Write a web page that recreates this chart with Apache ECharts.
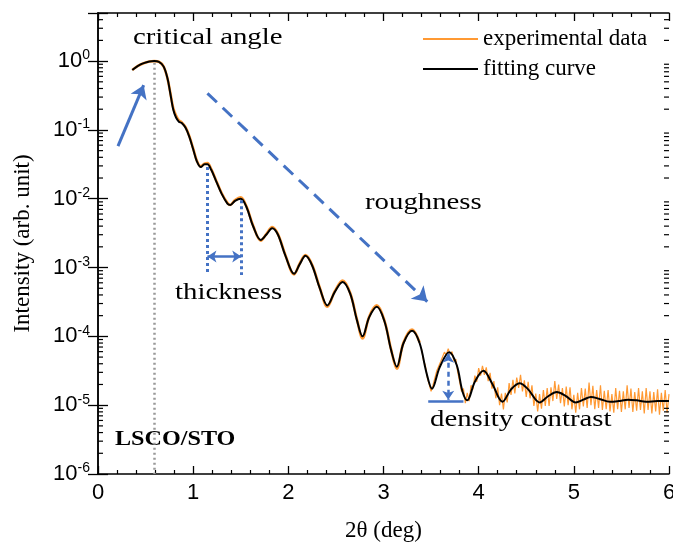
<!DOCTYPE html>
<html>
<head>
<meta charset="utf-8">
<script src="https://cdn.jsdelivr.net/npm/echarts@6/dist/echarts.min.js"></script>
<style>
  html, body { margin: 0; padding: 0; background: #fff; }
  #chart { width: 673px; height: 544px; }
</style>
</head>
<body>
<div id="chart"></div>
<script>
// X-ray reflectivity of an LSCO film on STO: measured scan and model fit.
// Intensities are kept as log10 values (arb. unit).

// Fitted model curve
const fitTwoTheta = [0.36,0.42,0.48,0.54,0.59,0.64,0.69,0.73,0.76,0.79,0.82,0.85,0.88,0.92,0.96,1.00,1.04,1.08,1.12,1.15,
  1.19,1.24,1.30,1.36,1.39,1.44,1.50,1.56,1.63,1.71,1.77,1.83,1.89,1.97,2.06,2.12,2.18,2.25,2.33,2.41,
  2.49,2.57,2.65,2.72,2.78,2.85,2.93,3.01,3.08,3.14,3.21,3.30,3.38,3.45,3.51,3.59,3.69,3.77,3.83,3.88,
  3.96,4.05,4.14,4.25,4.34,4.43,4.52,4.64,4.73,4.82,4.91,5.02,5.10,5.18,5.27,5.38,5.47,5.57,5.66,5.76,
  5.88,6.00];
const fitLogI = [-0.13,-0.07,-0.03,-0.005,0.0,-0.01,-0.08,-0.25,-0.47,-0.70,-0.82,-0.88,-0.90,-0.97,-1.10,-1.28,-1.46,-1.54,-1.50,-1.50,
  -1.58,-1.74,-1.93,-2.07,-2.09,-2.03,-2.00,-2.12,-2.40,-2.60,-2.52,-2.43,-2.52,-2.83,-3.09,-2.95,-2.83,-2.97,-3.30,-3.55,
  -3.35,-3.21,-3.38,-3.76,-4.00,-3.72,-3.57,-3.78,-4.20,-4.44,-4.10,-3.92,-4.10,-4.52,-4.76,-4.45,-4.23,-4.42,-4.80,-4.93,
  -4.66,-4.50,-4.68,-4.95,-4.77,-4.68,-4.77,-4.96,-4.87,-4.81,-4.86,-4.96,-4.92,-4.88,-4.91,-4.95,-4.94,-4.92,-4.93,-4.95,
  -4.94,-4.94];

// Measured scan, low-angle part (strong signal)
const expLowTwoTheta = [0.36,0.42,0.48,0.54,0.59,0.64,0.69,0.73,0.76,0.79,0.82,0.85,0.88,0.92,0.96,1.00,1.04,1.08,1.12,1.15,
  1.19,1.24,1.30,1.36,1.39,1.44,1.50,1.56,1.63,1.71,1.77,1.83,1.89,1.97,2.06,2.12,2.18,2.25,2.33,2.41,
  2.49,2.57,2.65,2.72,2.78,2.85,2.93,3.01,3.08,3.14,3.21,3.30,3.38];
const expLowLogI = [-0.13,-0.07,-0.03,-0.005,0.0,-0.01,-0.08,-0.25,-0.46,-0.68,-0.79,-0.86,-0.89,-0.96,-1.09,-1.27,-1.45,-1.53,-1.49,-1.48,
  -1.57,-1.73,-1.92,-2.06,-2.09,-2.02,-1.98,-2.11,-2.39,-2.61,-2.51,-2.41,-2.51,-2.82,-3.10,-2.94,-2.82,-2.96,-3.29,-3.57,
  -3.34,-3.19,-3.37,-3.75,-4.03,-3.71,-3.55,-3.77,-4.19,-4.47,-4.09,-3.90,-4.09];

// Measured scan, high-angle part (noisy), sampled every 0.02 deg from 3.40 deg
const expHighStart = 3.40;
const expHighStep = 0.02;
const expHighLogI = [-4.19,-4.35,-4.42,-4.60,-4.61,-4.80,-4.71,-4.71,-4.50,-4.52,
  -4.37,-4.38,-4.23,-4.27,-4.18,-4.26,-4.22,-4.36,-4.33,-4.52,
  -4.53,-4.80,-4.76,-4.97,-4.82,-4.94,-4.71,-4.77,-4.57,-4.66,
  -4.46,-4.57,-4.43,-4.56,-4.45,-4.65,-4.53,-4.76,-4.65,-4.90,
  -4.74,-5.00,-4.83,-5.06,-4.82,-4.96,-4.68,-4.85,-4.63,-4.83,
  -4.60,-4.75,-4.56,-4.80,-4.64,-4.88,-4.66,-4.90,-4.71,-5.01,
  -4.83,-5.09,-4.84,-5.05,-4.78,-5.01,-4.75,-5.01,-4.74,-4.94,
  -4.65,-4.91,-4.70,-4.97,-4.75,-5.02,-4.73,-5.00,-4.74,-5.06,
  -4.85,-5.11,-4.82,-5.06,-4.75,-5.02,-4.76,-5.04,-4.67,-5.00,
  -4.72,-5.06,-4.78,-5.04,-4.71,-5.07,-4.79,-5.06,-4.78,-5.09,
  -4.84,-5.11,-4.75,-5.06,-4.79,-5.10,-4.80,-5.06,-4.71,-5.04,
  -4.76,-5.10,-4.81,-5.08,-4.75,-5.07,-4.80,-5.12,-4.75,-5.07,
  -4.80,-5.12,-4.81,-5.09,-4.77,-5.14,-4.82,-5.08,-4.78,-5.11,
  -4.84];

// Axis ticks
const xTickValues = [0, 1, 2, 3, 4, 5, 6];
const yDecades = [-6, -5, -4, -3, -2, -1, 0];

const BLUE = '#4472C4';
const ORANGE = '#FF9933';
const SERIF = '"Liberation Serif", "Times New Roman", serif';
const SANS = '"Liberation Sans", Arial, sans-serif';

const toPoint = (x, lg) => [x, Math.pow(10, lg)];
const fitData = fitTwoTheta.map((x, i) => toPoint(x, fitLogI[i]));
const expLowData = expLowTwoTheta.map((x, i) => toPoint(x, expLowLogI[i]));
const expHighData = expHighLogI.map((lg, i) => toPoint(+(expHighStart + i * expHighStep).toFixed(2), lg));

// minor log ticks (2..9 per decade) drawn on both vertical axes
const yMax = 5;
const minorTickData = [];
yDecades.forEach(d => {
  for (let k = 2; k <= 9; k++) {
    const v = k * Math.pow(10, d);
    if (v < yMax) minorTickData.push([0, v]);
  }
});

const chart = echarts.init(document.getElementById('chart'), null, { renderer: 'canvas' });

const axisLineStyle = { color: '#000', width: 1.5 };

chart.setOption({
  animation: false,
  backgroundColor: '#fff',
  grid: { left: 98, right: 4, top: 13, bottom: 70, outerBoundsMode: 'none', containLabel: false },
  legend: {
    orient: 'vertical',
    left: 423, top: 27, padding: 0,
    icon: 'rect',
    itemWidth: 55, itemHeight: 2, itemGap: 6,
    textStyle: { fontFamily: SERIF, fontSize: 23, color: '#000', lineHeight: 24 },
    data: ['experimental data', 'fitting curve'],
    selectedMode: false
  },
  xAxis: [{
    type: 'value', min: 0, max: 6, interval: 1,
    name: '2θ (deg)', nameLocation: 'middle', nameGap: 45,
    nameTextStyle: { fontFamily: SERIF, fontSize: 23, color: '#000' },
    axisLine: { lineStyle: axisLineStyle },
    axisTick: { inside: true, length: 8, lineStyle: { color: '#000', width: 1.3 } },
    minorTick: { show: true, splitNumber: 5, length: 4, lineStyle: { color: '#000', width: 1.2 } },
    axisLabel: { fontFamily: SANS, fontSize: 22, color: '#000', margin: 8,
      formatter: v => (xTickValues.includes(Math.round(v)) ? String(Math.round(v)) : '') },
    splitLine: { show: false }
  }, {
    type: 'value', min: 0, max: 6, interval: 1, position: 'top',
    axisLine: { lineStyle: axisLineStyle },
    axisTick: { inside: true, length: 8, lineStyle: { color: '#000', width: 1.3 } },
    minorTick: { show: true, splitNumber: 5, length: 4, lineStyle: { color: '#000', width: 1.2 } },
    axisLabel: { show: false },
    splitLine: { show: false }
  }],
  yAxis: [{
    type: 'log', logBase: 10, min: 1e-6, max: yMax,
    name: 'Intensity (arb. unit)', nameLocation: 'middle', nameGap: 64, nameRotate: 90,
    nameTextStyle: { fontFamily: SERIF, fontSize: 23, color: '#000' },
    axisLine: { show: true, lineStyle: axisLineStyle },
    axisTick: { inside: true, length: 10, lineStyle: { color: '#000', width: 1.3 } },
    axisLabel: {
      margin: 8, color: '#000',
      formatter: v => {
        const lg = Math.log10(v);
        const e = Math.round(lg);
        if (Math.abs(lg - e) > 1e-6 || !yDecades.includes(e)) return '';
        return '{b|10}{s|' + e + '}';
      },
      rich: {
        b: { fontFamily: SANS, fontSize: 22, color: '#000' },
        s: { fontFamily: SANS, fontSize: 14, color: '#000', verticalAlign: 'bottom', padding: [0, 0, 11, 0] }
      }
    },
    splitLine: { show: false }
  }, {
    type: 'log', logBase: 10, min: 1e-6, max: yMax, position: 'right',
    axisLine: { show: true, lineStyle: axisLineStyle },
    axisTick: { inside: true, length: 10, lineStyle: { color: '#000', width: 1.3 } },
    axisLabel: { show: false },
    splitLine: { show: false }
  }],
  graphic: [
    { type: 'text', x: 133, y: 38, scaleX: 1.2, silent: true,
      style: { text: 'critical angle', font: '24px ' + SERIF, fill: '#000', verticalAlign: 'middle' } },
    { type: 'text', x: 365, y: 203, scaleX: 1.2, silent: true,
      style: { text: 'roughness', font: '24px ' + SERIF, fill: '#000', verticalAlign: 'middle' } },
    { type: 'text', x: 175, y: 293, scaleX: 1.2, silent: true,
      style: { text: 'thickness', font: '24px ' + SERIF, fill: '#000', verticalAlign: 'middle' } },
    { type: 'text', x: 430, y: 420, scaleX: 1.2, silent: true,
      style: { text: 'density contrast', font: '24px ' + SERIF, fill: '#000', verticalAlign: 'middle' } },
    { type: 'text', x: 115, y: 440, scaleX: 1.15, silent: true,
      style: { text: 'LSCO/STO', font: 'bold 21px ' + SERIF, fill: '#000', verticalAlign: 'middle' } }
  ],
  series: [
    {
      name: 'experimental data', type: 'line', data: expHighData,
      symbol: 'none', smooth: false, z: 2,
      itemStyle: { color: ORANGE },
      lineStyle: { color: ORANGE, width: 1.2 }
    },
    {
      name: 'experimental data', type: 'line', data: expLowData,
      symbol: 'none', smooth: 0.35, z: 2,
      itemStyle: { color: ORANGE },
      lineStyle: { color: ORANGE, width: 2.6 }
    },
    {
      name: 'fitting curve', type: 'line', data: fitData,
      symbol: 'none', smooth: 0.35, z: 3,
      itemStyle: { color: '#000' },
      lineStyle: { color: '#000', width: 2 },
      markLine: {
        silent: true, animation: false,
        symbol: ['none', 'none'], symbolSize: 12,
        label: { show: false },
        emphasis: { disabled: true },
        data: [
          // critical angle marker
          [{ coord: [0.59, 0.95], lineStyle: { color: '#999999', width: 2.5, type: [2, 3] } },
           { coord: [0.59, 1e-6] }],
          // arrow towards the critical angle
          [{ coord: [0.21, 0.058], lineStyle: { color: BLUE, width: 3, type: 'solid' } },
           { coord: [0.48, 0.447], symbol: 'arrow', symbolSize: 13 }],
          // roughness trend
          [{ coord: [1.15, 0.34], lineStyle: { color: BLUE, width: 3, type: [13, 8] } },
           { coord: [3.46, 3.2e-4], symbol: 'arrow', symbolSize: 14 }],
          // thickness: fringe period
          [{ coord: [1.15, 0.029], lineStyle: { color: BLUE, width: 3, type: [3, 3] } },
           { coord: [1.15, 7.8e-4] }],
          [{ coord: [1.505, 0.0095], lineStyle: { color: BLUE, width: 3, type: [3, 3] } },
           { coord: [1.505, 7.8e-4] }],
          [{ coord: [1.15, 1.45e-3], symbol: 'arrow', symbolSize: 9, lineStyle: { color: BLUE, width: 2.5, type: 'solid' } },
           { coord: [1.505, 1.45e-3], symbol: 'arrow', symbolSize: 9 }],
          // density contrast: fringe amplitude
          [{ coord: [3.47, 1.15e-5], lineStyle: { color: BLUE, width: 2.5, type: 'solid' } },
           { coord: [3.84, 1.15e-5] }],
          [{ coord: [3.68, 5.6e-5], symbol: 'arrow', symbolSize: 9, lineStyle: { color: BLUE, width: 2.5, type: [5, 4] } },
           { coord: [3.68, 1.2e-5], symbol: 'arrow', symbolSize: 9 }]
        ]
      }
    },
    {
      name: 'minor ticks', type: 'custom', data: minorTickData,
      encode: { x: 0, y: 1 }, silent: true, clip: false, z: 5,
      renderItem: (params, api) => {
        const p = api.coord([0, api.value(1)]);
        const cs = params.coordSys;
        return {
          type: 'group',
          children: [
            { type: 'line', shape: { x1: cs.x, y1: p[1], x2: cs.x + 5, y2: p[1] },
              style: { stroke: '#000', lineWidth: 1.2 } },
            { type: 'line', shape: { x1: cs.x + cs.width, y1: p[1], x2: cs.x + cs.width - 5, y2: p[1] },
              style: { stroke: '#000', lineWidth: 1.2 } }
          ]
        };
      }
    }
  ]
});
</script>
</body>
</html>
